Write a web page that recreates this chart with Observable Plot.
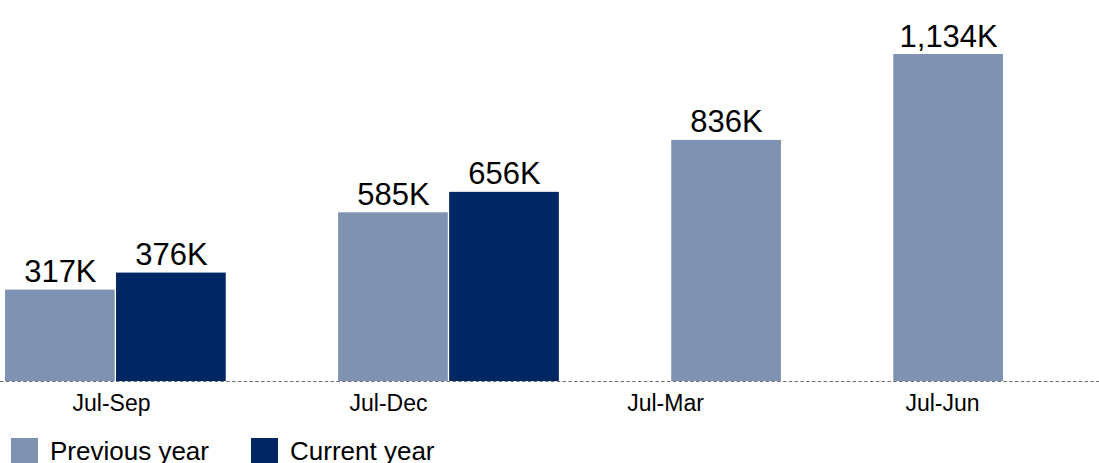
<!DOCTYPE html>
<html>
<head>
<meta charset="utf-8">
<script src="https://cdn.jsdelivr.net/npm/d3@7"></script>
<script src="https://cdn.jsdelivr.net/npm/@observablehq/plot@0.6"></script>
<style>
  html, body { margin: 0; padding: 0; background: #fff; overflow: hidden; }
  body { font-family: "Liberation Sans", Arial, sans-serif; width: 1099px; height: 463px; }
  #chart svg { display: block; }
  .legend { display: flex; align-items: flex-start; padding-top: 6px; }
  .legend .item { display: flex; align-items: flex-start; }
  .legend .sw { width: 27px; height: 27px; margin-right: 12px; flex: none; }
  .legend .lab { font-size: 26px; line-height: 27px; color: #000; white-space: nowrap; }
</style>
</head>
<body>
<div id="chart"></div>
<script>
const categories = ["Jul-Sep", "Jul-Dec", "Jul-Mar", "Jul-Jun"];
const seriesNames = ["Previous year", "Current year"];
const previousYear = [317, 585, 836, 1134];
const currentYear = [376, 656, null, null];
const seriesColors = ["#7F92B2", "#002663"];

const seriesValues = [previousYear, currentYear];
const rows = [];
categories.forEach((cat, i) => {
  seriesNames.forEach((s, j) => {
    const v = seriesValues[j][i];
    if (v != null) rows.push({category: cat, series: s, value: v, key: cat + "|" + s});
  });
});
// band domain: present bars of each category, followed by one spacer slot between groups
const slotDomain = [];
categories.forEach((cat, i) => {
  rows.filter(r => r.category === cat).forEach(r => slotDomain.push(r.key));
  if (i < categories.length - 1) slotDomain.push(cat + "|spacer");
});

const font = "'Liberation Sans', Arial, sans-serif";
const fmt = d3.format(",");

const bars = Plot.plot({
  width: 1099,
  height: 382,
  marginTop: 54,
  marginBottom: 1,
  marginLeft: 5,
  marginRight: 96,
  style: {fontFamily: font, background: "white", overflow: "visible"},
  x: {type: "band", domain: slotDomain, paddingInner: 0.012, paddingOuter: 0, align: 0, round: false, axis: null},
  y: {domain: [0, d3.max(rows, d => d.value)], axis: null},
  color: {domain: seriesNames, range: seriesColors},
  marks: [
    Plot.ruleY([0], {stroke: "#707070", strokeWidth: 1, strokeDasharray: "3.5,2.3", insetLeft: -5, insetRight: -96}),
    Plot.barY(rows, {x: "key", y: "value", fill: "series"}),
    Plot.text(rows, {x: "key", y: "value", text: d => fmt(d.value) + "K", lineAnchor: "bottom", dy: -8, fontSize: 31, fill: "#000"})
  ]
});

const axis = Plot.plot({
  width: 1099,
  height: 50,
  marginTop: 0,
  marginBottom: 49,
  marginLeft: 111,
  marginRight: 157,
  style: {fontFamily: font, background: "white", overflow: "visible"},
  x: {type: "point", domain: categories, padding: 0},
  marks: [
    Plot.axisX({anchor: "bottom", tickSize: 0, tickPadding: 11.4, fontSize: 23, fill: "#000", label: null})
  ]
});

const chart = document.getElementById("chart");
chart.appendChild(bars);
chart.appendChild(axis);

const legend = document.createElement("div");
legend.className = "legend";
const itemLefts = [11, 251];
seriesNames.forEach((s, i) => {
  const item = document.createElement("div");
  item.className = "item";
  item.style.marginLeft = (i === 0 ? itemLefts[0] : 0) + "px";
  if (i < seriesNames.length - 1) item.style.width = (itemLefts[i + 1] - itemLefts[i]) + "px";
  const sw = document.createElement("div");
  sw.className = "sw";
  sw.style.background = seriesColors[i];
  const lab = document.createElement("span");
  lab.className = "lab";
  lab.textContent = s;
  item.appendChild(sw);
  item.appendChild(lab);
  legend.appendChild(item);
});
chart.appendChild(legend);
</script>
</body>
</html>
